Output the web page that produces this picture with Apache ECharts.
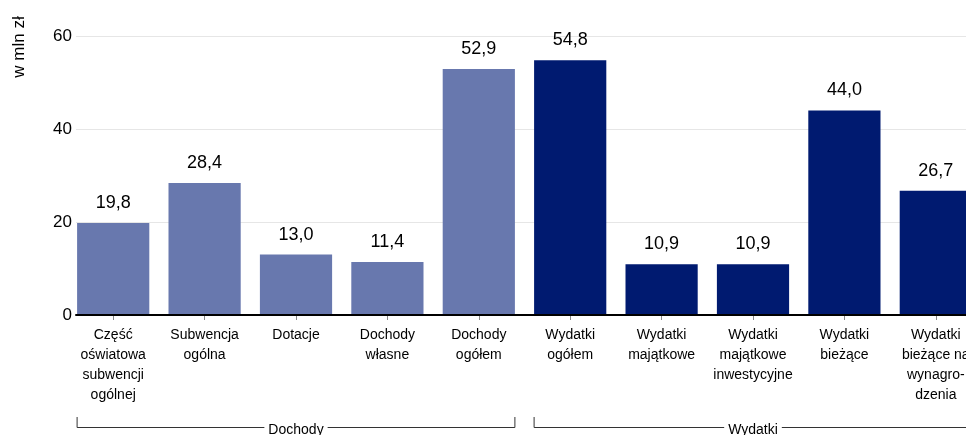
<!DOCTYPE html>
<html><head><meta charset="utf-8">
<script src="https://cdn.jsdelivr.net/npm/echarts@6/dist/echarts.min.js"></script>
<style>html,body{margin:0;padding:0;background:#fff;overflow:hidden;width:966px;height:435px}#c{width:982px;height:435px}</style>
</head><body><div id="c"></div>
<script>
var categories = ["Część\noświatowa\nsubwencji\nogólnej","Subwencja\nogólna","Dotacje","Dochody\nwłasne","Dochody\nogółem","Wydatki\nogółem","Wydatki\nmajątkowe","Wydatki\nmajątkowe\ninwestycyjne","Wydatki\nbieżące","Wydatki\nbieżące na\nwynagro-\ndzenia"];
var values = [19.8, 28.4, 13.0, 11.4, 52.9, 54.8, 10.9, 10.9, 44.0, 26.7];
var groups = [{name:"Dochody", from:0, to:4, color:"#6878ae"},{name:"Wydatki", from:5, to:9, color:"#001a70"}];
var yTicks = {min:0, max:60, interval:20};
var yName = "w mln zł";

var FONT = "Liberation Sans, Arial, sans-serif";
var GAP = 0.21;
function colorOf(i){ for (var g of groups) if (i>=g.from && i<=g.to) return g.color; return "#000"; }

var chart = echarts.init(document.getElementById('c'), null, {renderer:'canvas'});
chart.setOption({
  animation:false,
  grid:[
    {left:67.5, right:0.5, top:36, bottom:120, containLabel:false},
    {left:76, right:16, top:36, bottom:120, containLabel:false}
  ],
  xAxis:[
    {type:'category', gridIndex:0, data:categories,
      axisLine:{show:false},
      axisTick:{show:true, alignWithLabel:true, length:5, lineStyle:{color:'#888'}},
      axisLabel:{interval:0, color:'#000', fontFamily:FONT, fontSize:14, lineHeight:20, margin:10}},
    {type:'value', gridIndex:1, min:0, max:1, z:5,
      axisLine:{show:true, onZero:false, lineStyle:{color:'#000', width:2}},
      axisTick:{show:false}, axisLabel:{show:false}, splitLine:{show:false}}
  ],
  yAxis:[
    {type:'value', gridIndex:0, min:yTicks.min, max:yTicks.max, interval:yTicks.interval, show:false},
    {type:'value', gridIndex:1, min:yTicks.min, max:yTicks.max, interval:yTicks.interval,
      axisLine:{show:false}, axisTick:{show:false},
      axisLabel:{color:'#000', fontFamily:FONT, fontSize:17, margin:4},
      splitLine:{lineStyle:{color:'#e6e6e6', width:1}}}
  ],
  series:[{type:'bar', xAxisIndex:0, yAxisIndex:0, barCategoryGap:(GAP*100)+'%',
    data: values.map(function(v,i){return {value:v, itemStyle:{color:colorOf(i)}};}),
    label:{show:true, position:'top', distance:11, color:'#000', fontFamily:FONT, fontSize:18,
      formatter:function(p){return p.value.toFixed(1).replace('.',',');}}}]
});

function px(i){ return chart.convertToPixel({xAxisIndex:0}, i); }
var band = px(1)-px(0);
var half = band*(1-GAP)/2;
var lineY = 427.5, tickTop = 417;
var graphics = [{type:'text', rotation:Math.PI/2, x:19, y:47,
  style:{text:yName, font:'17px '+FONT, fill:'#000', textAlign:'center', textVerticalAlign:'middle'}}];
groups.forEach(function(g){
  var x0 = px(g.from)-half, x1 = px(g.to)+half;
  graphics.push({type:'polyline', shape:{points:[[x0,tickTop],[x0,lineY],[x1,lineY],[x1,tickTop]]},
    style:{stroke:'#333', lineWidth:1, fill:null}, silent:true});
  graphics.push({type:'text', x:(x0+x1)/2, y:lineY+3,
    style:{text:g.name, font:'14px '+FONT, fill:'#000', textAlign:'center', textVerticalAlign:'middle',
      backgroundColor:'#fff', padding:[0,4]}});
});
chart.setOption({graphic:graphics});
</script></body></html>
